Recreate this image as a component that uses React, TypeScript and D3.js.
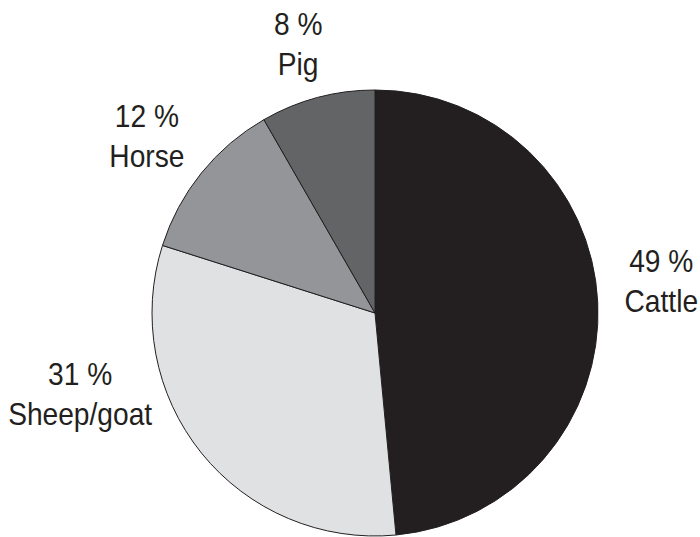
import React from "react";
import * as d3 from "d3";

// Data
const categories = ["Cattle", "Sheep/goat", "Horse", "Pig"];
const shares = [48.5, 31.4, 11.8, 8.3];
const percentLabels = ["49 %", "31 %", "12 %", "8 %"];
const colors = ["#231f20", "#e0e1e3", "#939598", "#636466"];

// Label layout (polar placement around the pie centre)
const labelAngleDeg = [85.9, 252.6, 306, 343.4];
const labelRadius = [287, 309, 282, 269];

const W = 700;
const H = 537;
const CX = 375;
const CY = 313;
const R = 223;
const FONT = "'Liberation Sans', Arial, sans-serif";
const FONT_SIZE = 32;
const X_SCALE = 0.88;
const LINE_GAP = 40;

type Row = { cat: string; share: number; pct: string; color: string; la: number; lr: number };

export default function App() {
  const rows: Row[] = categories.map((c, i) => ({
    cat: c,
    share: shares[i],
    pct: percentLabels[i],
    color: colors[i],
    la: labelAngleDeg[i],
    lr: labelRadius[i],
  }));
  const pie = d3
    .pie<Row>()
    .value((d) => d.share)
    .sort(null)
    .startAngle(0)
    .endAngle(2 * Math.PI);
  const arcs = pie(rows);
  const arc = d3.arc<d3.PieArcDatum<Row>>().innerRadius(0).outerRadius(R);

  return (
    <svg
      width={W}
      height={H}
      style={{ position: "absolute", left: 0, top: 0, background: "#fff" }}
    >
      <g transform={`translate(${CX},${CY})`}>
        {arcs.map((a, i) => (
          <path key={i} d={arc(a) || ""} fill={a.data.color} stroke="#231f20" strokeWidth={1} strokeLinejoin="round" />
        ))}
        {arcs.map((a, i) => {
          const t = (a.data.la * Math.PI) / 180;
          const x = Math.sin(t) * a.data.lr;
          const y = -Math.cos(t) * a.data.lr;
          return (
            <g
              key={"l" + i}
              transform={`translate(${x},${y}) scale(${X_SCALE},1)`}
              fontFamily={FONT}
              fontSize={FONT_SIZE}
              fill="#231f20"
              textAnchor="middle"
            >
              <text x={0} y={-LINE_GAP / 2}>{a.data.pct}</text>
              <text x={0} y={LINE_GAP / 2}>{a.data.cat}</text>
            </g>
          );
        })}
      </g>
    </svg>
  );
}
